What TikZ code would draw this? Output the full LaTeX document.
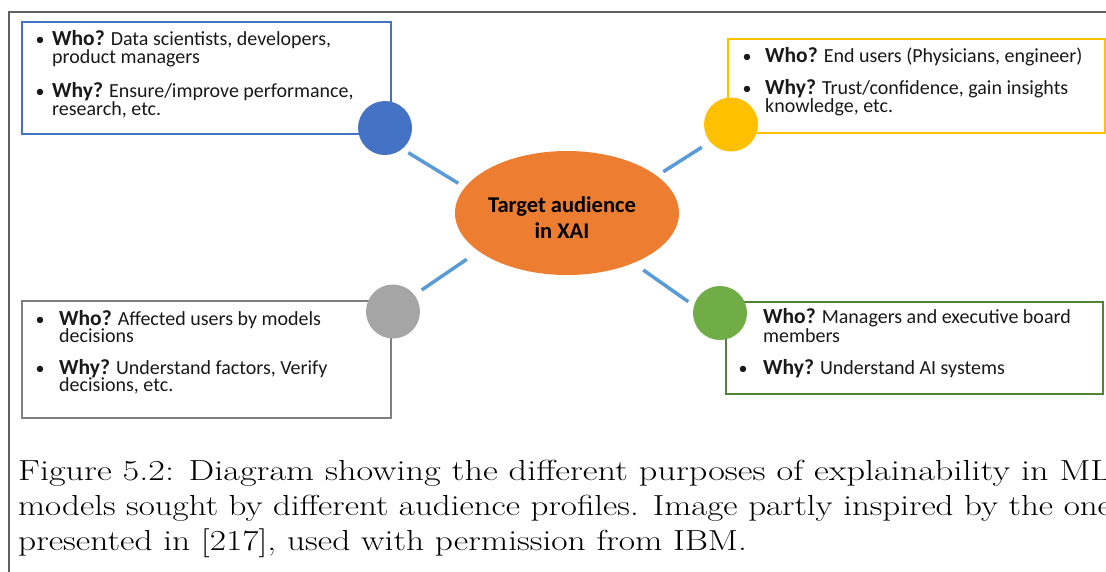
\documentclass[tikz,border=0pt]{standalone}
\usepackage{fontspec}
\newfontfamily\cali{Carlito}
\usetikzlibrary{shapes.geometric}
\definecolor{cblue}{HTML}{4472C4}
\definecolor{cyellow}{HTML}{FFC000}
\definecolor{cgray}{HTML}{A5A5A5}
\definecolor{cgraybox}{HTML}{7F7F7F}
\definecolor{cgreen}{HTML}{70AD47}
\definecolor{cgreenbox}{HTML}{548235}
\definecolor{corange}{HTML}{ED7D31}
\definecolor{cline}{HTML}{5B9BD5}
\newcommand{\bigb}[1]{{\fontsize{21.5}{21}\selectfont\bfseries #1}}
\newcommand{\capline}[2]{\scalebox{#1}[1]{#2}}
\tikzset{
  txt/.style={anchor=base west, inner sep=0pt, font=\cali\fontsize{20}{18}\selectfont, text=black!90},
  bul/.style={anchor=base, inner sep=0pt, font=\cali\fontsize{18}{18}\selectfont, text=black!90},
  box/.style={line width=1.5pt},
  dot/.style={circle, minimum size=54pt, inner sep=0pt, draw=none},
  conn/.style={draw=cline, line width=3.5pt},
  captxt/.style={anchor=base west, inner sep=0pt, font=\fontsize{29}{35}\selectfont},
  ctr/.style={anchor=base, inner sep=0pt, font=\cali\fontsize{22.5}{26}\selectfont\bfseries}
}
\begin{document}
\begin{tikzpicture}[x=1pt,y=-1pt]
\useasboundingbox (0,0) rectangle (1106,571);
\clip (0,0) rectangle (1106,571);
\fill[white] (0,0) rectangle (1106,571);
% outer frame
\draw[gray!75!black, line width=1.8pt] (9,580) -- (9,12) -- (1120,12);

% boxes
\draw[box, draw=cblue] (22,22) rectangle (391,134);
\draw[box, draw=cyellow] (728,39) rectangle (1105,133);
\draw[box, draw=cgraybox] (22,301) rectangle (391,418);
\draw[box, draw=cgreenbox] (726,302) rectangle (1103,394);

% blue box text
\node[bul] (b1d) at (40,45) {•};
\node[txt] (b1a) at (52,45) {\bigb{Who?} Data scientists, developers,};
\node[txt] (b1b) at (52,63) {product managers};
\node[bul] (b1e) at (40,97) {•};
\node[txt] (b1c) at (52,97) {\bigb{Why?} Ensure/improve performance,};
\node[txt] (b1f) at (52,115) {research, etc.};

% yellow box text
\node[bul] (y1d) at (747,62) {•};
\node[txt] (y1a) at (765,62) {\bigb{Who?} End users (Physicians, engineer)};
\node[bul] (y1e) at (747,94) {•};
\node[txt] (y1c) at (765,94) {\bigb{Why?} Trust/confidence, gain insights};
\node[txt] (y1f) at (765,112) {knowledge, etc.};

% gray box text
\node[bul] (g1d) at (40,325) {•};
\node[txt] (g1a) at (59,325) {\bigb{Who?} Affected users by models};
\node[txt] (g1b) at (59,342) {decisions};
\node[bul] (g1e) at (40,374) {•};
\node[txt] (g1c) at (59,374) {\bigb{Why?} Understand factors, Verify};
\node[txt] (g1f) at (59,391) {decisions, etc.};

% green box text
\node[txt] (r1a) at (763,323) {\bigb{Who?} Managers and executive board};
\node[txt] (r1b) at (763,342) {members};
\node[bul] (r1e) at (743,374) {•};
\node[txt] (r1c) at (763,374) {\bigb{Why?} Understand AI systems};

% circles
\node[dot, fill=cblue] (cb) at (385,128) {};
\node[dot, fill=cyellow] (cy) at (731,124.5) {};
\node[dot, fill=cgray] (cg) at (393,311.5) {};
\node[dot, fill=cgreen] (cr) at (720,313) {};

% centre ellipse
\node[ellipse, fill=corange, minimum width=224pt, minimum height=124pt, inner sep=0pt] (ell) at (567,213) {};
\node[ctr] (t1) at (562,212) {Target audience};
\node[ctr] (t2) at (562,238) {in XAI};

% connectors
\coordinate (kb1) at (408.3,152.7); \coordinate (kb2) at (458.3,183.3);
\coordinate (ky1) at (663.3,171.7); \coordinate (ky2) at (701.7,147.3);
\coordinate (kg1) at (421.7,290);   \coordinate (kg2) at (466.7,259.3);
\coordinate (kr1) at (643.3,270);   \coordinate (kr2) at (688.3,301.7);
\draw[conn] (kb1) -- (kb2);
\draw[conn] (ky1) -- (ky2);
\draw[conn] (kg1) -- (kg2);
\draw[conn] (kr1) -- (kr2);

% caption
\node[captxt] (cap1) at (18,480) {\capline{1.25}{Figure 5.2: Diagram showing the different purposes of explainability in ML}};
\node[captxt] (cap2) at (18,515) {\capline{1.207}{models sought by different audience profiles. Image partly inspired by the one}};
\node[captxt] (cap3) at (18,550) {\capline{1.222}{presented in [217], used with permission from IBM.}};
\end{tikzpicture}
\end{document}
